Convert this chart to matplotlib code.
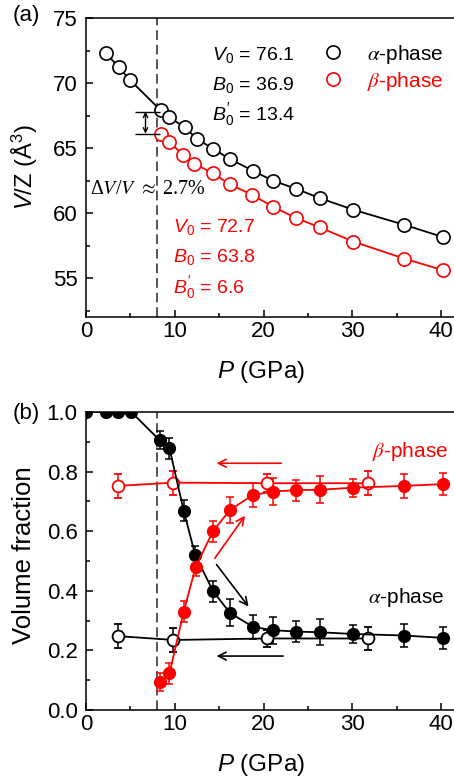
import numpy as np
import matplotlib
matplotlib.use("Agg")
import matplotlib.pyplot as plt
from matplotlib.ticker import MultipleLocator, FormatStrFormatter

plt.rcParams['font.family'] = ['Liberation Sans', 'DejaVu Sans']
plt.rcParams['mathtext.fontset'] = 'custom'
plt.rcParams['mathtext.rm'] = 'Liberation Sans'
plt.rcParams['mathtext.it'] = 'Liberation Sans:italic'
plt.rcParams['mathtext.bf'] = 'Liberation Sans:bold'

RED = '#ff0000'

# (a) volume per formula unit vs pressure
p_alpha = [2.25, 3.7, 5.0, 8.4, 9.4, 11.1, 12.5, 14.3, 16.2, 18.8, 21.0, 23.7, 26.3, 30.1, 35.8, 40.2]
v_alpha = [72.3, 71.2, 70.2, 67.9, 67.35, 66.6, 65.7, 64.95, 64.15, 63.25, 62.5, 61.85, 61.15, 60.25, 59.1, 58.15]
p_beta = [8.4, 9.3, 10.9, 12.2, 14.3, 16.2, 18.7, 21.0, 23.7, 26.3, 30.1, 35.8, 40.2]
v_beta = [66.05, 65.5, 64.5, 63.8, 63.05, 62.2, 61.4, 60.5, 59.6, 58.9, 57.8, 56.5, 55.6]

# (b) volume fractions, compression (filled) and decompression (open)
p_comp_a = [0.0, 2.25, 3.6, 5.1, 8.3, 9.4, 11.0, 12.3, 14.3, 16.2, 18.8, 21.0, 23.7, 26.3, 30.1, 35.8, 40.2]
f_comp_a = [1.0, 1.0, 1.0, 1.0, 0.905, 0.878, 0.669, 0.52, 0.399, 0.326, 0.279, 0.268, 0.263, 0.261, 0.255, 0.25, 0.242]
e_comp_a = [0, 0, 0, 0, 0.03, 0.035, 0.035, 0.03, 0.035, 0.045, 0.04, 0.045, 0.035, 0.043, 0.03, 0.04, 0.037]
p_comp_b = [8.3, 9.4, 11.0, 12.35, 14.3, 16.2, 18.75, 21.0, 23.7, 26.3, 30.1, 35.8, 40.2]
f_comp_b = [0.095, 0.123, 0.33, 0.48, 0.60, 0.671, 0.721, 0.733, 0.738, 0.739, 0.746, 0.752, 0.758]
e_comp_b = [0.03, 0.035, 0.035, 0.03, 0.035, 0.045, 0.04, 0.045, 0.035, 0.045, 0.03, 0.04, 0.037]
p_dec = [3.55, 9.85, 20.35, 31.7]
f_dec_a = [0.248, 0.235, 0.24, 0.24]
f_dec_b = [0.752, 0.763, 0.761, 0.761]
e_dec = [0.04, 0.04, 0.03, 0.04]

fig = plt.figure(figsize=(4.54, 7.81), dpi=100)
ax1 = fig.add_axes([86/454, 1-317/781, 373/454, 299/781])
ax2 = fig.add_axes([86/454, 1-710/781, 373/454, 298/781])

for ax in (ax1, ax2):
    ax.set_xlim(0, 42)
    ax.xaxis.set_major_locator(MultipleLocator(10))
    ax.xaxis.set_minor_locator(MultipleLocator(5))
    ax.tick_params(which='both', direction='in', labelsize=16, width=1.1, top=False, right=False)
    ax.tick_params(which='major', length=5)
    ax.tick_params(which='minor', length=3)
    ax.tick_params(axis='y', pad=6)
    ax.tick_params(axis='x', pad=3)
    for s in ax.spines.values():
        s.set_linewidth(1.1)
    ax.axvline(8.0, color='#555555', lw=1.4, ls=(0, (5, 2.5)), zorder=0)
    ax.set_xlabel(r'$P$ (GPa)', fontsize=17.5, va='center')
    ax.xaxis.set_label_coords(0.47, -0.185)

# ---- panel (a)
ax1.set_ylim(52, 75)
ax1.yaxis.set_major_locator(MultipleLocator(5))
ax1.yaxis.set_minor_locator(MultipleLocator(2.5))
ax1.plot(p_alpha, v_alpha, '-', color='k', lw=1.3)
ax1.plot(p_beta, v_beta, '-', color=RED, lw=1.3)
ax1.plot(p_alpha, v_alpha, 'o', ms=9.5, mfc='white', mec='k', mew=1.2, label=r'$\alpha$-phase')
ax1.plot(p_beta, v_beta, 'o', ms=9.5, mfc='white', mec=RED, mew=1.2, label=r'$\beta$-phase')
ax1.set_ylabel(r'$V$/Z ($\mathregular{\AA^3}$)', fontsize=17, va='center')
ax1.yaxis.set_label_coords(-0.163, 0.5)

leg = ax1.legend(loc='upper left', bbox_to_anchor=(0.637, 0.918), frameon=False, fontsize=15,
                 handlelength=0.9, handletextpad=1.2, borderpad=0, borderaxespad=0, labelspacing=0.2)
leg.get_texts()[1].set_color(RED)
for t in leg.get_texts():
    t.set_math_fontfamily('stix')

ax1.text(14.2, 72.15, r'$\mathit{V_0}$ = 76.1', fontsize=14, va='center')
ax1.text(14.2, 69.85, r'$\mathit{B_0}$ = 36.9', fontsize=14, va='center')
ax1.text(14.2, 67.6, r"$\mathit{B}^{\prime}_{\mathit{0}}$ = 13.4", fontsize=14, va='center')
ax1.text(9.8, 58.95, r'$\mathit{V_0}$ = 72.7', fontsize=14, va='center', color=RED)
ax1.text(9.8, 56.6, r'$\mathit{B_0}$ = 63.8', fontsize=14, va='center', color=RED)
ax1.text(9.8, 54.3, r"$\mathit{B}^{\prime}_{\mathit{0}}$ = 6.6", fontsize=14, va='center', color=RED)
ax1.text(0.45, 61.8, r'Δ$V$/$V$ $\approx$ 2.7%', fontsize=14.5, va='center',
         family=['Liberation Serif', 'DejaVu Serif'], math_fontfamily='stix')

ax1.hlines([67.8, 66.1], 5.5, 8.3, color='k', lw=1.0)
ax1.annotate('', xy=(6.7, 66.1), xytext=(6.7, 67.8),
             arrowprops=dict(arrowstyle='<->', lw=1.0, color='k', shrinkA=0, shrinkB=0,
                             mutation_scale=8))
fig.text(13/454, 1-15/781, '(a)', fontsize=16, va='center')

# ---- panel (b)
ax2.set_ylim(0, 1.0)
ax2.yaxis.set_major_locator(MultipleLocator(0.2))
ax2.yaxis.set_minor_locator(MultipleLocator(0.1))
ax2.yaxis.set_major_formatter(FormatStrFormatter('%.1f'))
eb = dict(capsize=3, elinewidth=1.1, capthick=1.1, lw=1.3)
ax2.errorbar(p_dec, f_dec_b, yerr=e_dec, fmt='o-', color=RED, ms=8.5, mfc='white', mec=RED, mew=1.3, **eb)
ax2.errorbar(p_dec, f_dec_a, yerr=e_dec, fmt='o-', color='k', ms=8.5, mfc='white', mec='k', mew=1.3, **eb)
ax2.errorbar(p_comp_a, f_comp_a, yerr=e_comp_a, fmt='o-', color='k', ms=8.5, **eb)
ax2.errorbar(p_comp_b, f_comp_b, yerr=e_comp_b, fmt='o-', color=RED, ms=8.5, **eb)
ax2.set_ylabel('Volume fraction', fontsize=18.5, va='center')
ax2.yaxis.set_label_coords(-0.166, 0.52)

arr = dict(arrowstyle='->', lw=1.2, shrinkA=0, shrinkB=0, mutation_scale=14)
ax2.annotate('', xy=(14.7, 0.828), xytext=(22.0, 0.828), arrowprops=dict(color=RED, **arr))
ax2.annotate('', xy=(17.9, 0.652), xytext=(14.5, 0.509), arrowprops=dict(color=RED, **arr))
ax2.annotate('', xy=(18.3, 0.347), xytext=(14.7, 0.488), arrowprops=dict(color='k', **arr))
ax2.annotate('', xy=(14.7, 0.181), xytext=(22.2, 0.181), arrowprops=dict(color='k', **arr))
ax2.text(32.2, 0.867, r'$\beta$-phase', fontsize=15, va='center', color=RED, math_fontfamily='stix')
ax2.text(31.8, 0.377, r'$\alpha$-phase', fontsize=15, va='center', color='k', math_fontfamily='stix')
fig.text(13/454, 1-413/781, '(b)', fontsize=16, va='center')

fig.savefig('out.png', dpi=100)
